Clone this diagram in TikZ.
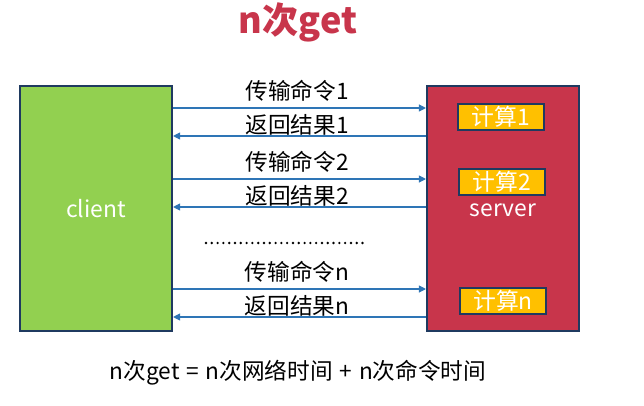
\documentclass[tikz,border=0pt]{standalone}
\usepackage{fontspec}
\setmainfont{Noto Sans CJK SC}
\usetikzlibrary{arrows.meta,positioning}

\definecolor{clientgreen}{HTML}{92D050}
\definecolor{serverred}{HTML}{C8354B}
\definecolor{calcyellow}{HTML}{FFC000}
\definecolor{boxline}{HTML}{1F3A60}
\definecolor{msgblue}{HTML}{2E75B6}

\tikzset{
  hostbox/.style={draw=boxline,line width=1.2pt,minimum width=3.04cm,minimum height=4.9cm,inner sep=0pt},
  calcbox/.style={draw=boxline,fill=calcyellow,line width=1.2pt,minimum width=1.72cm,minimum height=0.52cm,inner sep=0pt,text=white},
  msg/.style={font=\fontsize{12.9}{14}\selectfont},
  send/.style={-{Triangle[length=4pt,width=4pt]},msgblue,line width=0.6pt},
}

\begin{document}
\begin{tikzpicture}[x=0.02cm,y=-0.02cm,>=Latex]
\useasboundingbox (0,0) rectangle (644,405);
% title
\node[text=serverred,font=\fontsize{20.5}{24}\selectfont\bfseries] (title) at (298,22) {n次get};
% hosts
\node[hostbox,fill=clientgreen,text=white,font=\fontsize{13}{15}\selectfont] (client) at (96,208.5) {client};
\node[hostbox,fill=serverred] (server) at (503,208.5) {};
\node[text=white,font=\fontsize{13}{15}\selectfont] (srvname) at (503,210) {server};
\node[calcbox,font=\fontsize{13}{15}\selectfont] (calc1) at (501,117) {计算1};
\node[calcbox,font=\fontsize{13}{15}\selectfont] (calc2) at (502,182) {计算2};
\node[calcbox,font=\fontsize{13}{15}\selectfont] (calcn) at (503,301) {计算n};
% message levels
\coordinate (m1) at (0,108);
\coordinate (r1) at (0,136);
\coordinate (m2) at (0,179);
\coordinate (r2) at (0,207);
\coordinate (mn) at (0,289);
\coordinate (rn) at (0,317);
\draw[send] (client.east |- m1) -- (server.west |- m1);
\draw[send] (server.west |- r1) -- (client.east |- r1);
\draw[send] (client.east |- m2) -- (server.west |- m2);
\draw[send] (server.west |- r2) -- (client.east |- r2);
\draw[send] (client.east |- mn) -- (server.west |- mn);
\draw[send] (server.west |- rn) -- (client.east |- rn);
% labels
\node[msg] (lm1) at (297,91) {传输命令1};
\node[msg] (lr1) at (297,125) {返回结果1};
\node[msg] (lm2) at (297,162) {传输命令2};
\node[msg] (lr2) at (297,196) {返回结果2};
\node[msg] (lmn) at (297,272) {传输命令n};
\node[msg] (lrn) at (297,306) {返回结果n};
% dots
\coordinate (dotsA) at (206,243);
\coordinate (dotsB) at (368,243);
\draw[line width=1.5pt,line cap=round,dash pattern=on 0pt off 3.3pt] (dotsA) -- (dotsB);
% formula
\node[msg] (sum) at (298,373) {n次get\hspace{0.3em}=\hspace{0.3em}n次网络时间\hspace{0.3em}+\hspace{0.3em}n次命令时间};
\end{tikzpicture}
\end{document}
